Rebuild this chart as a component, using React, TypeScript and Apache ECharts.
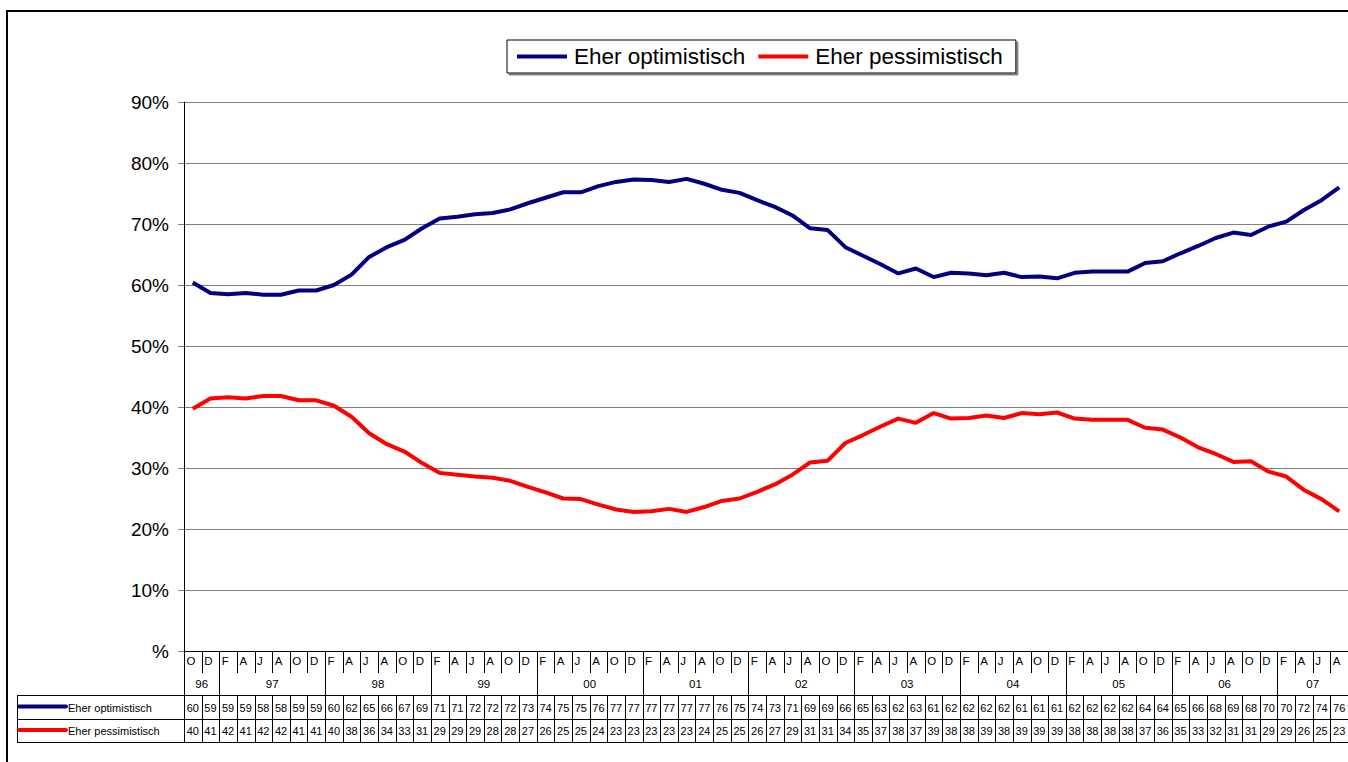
import React, { useEffect, useRef } from 'react';
import * as echarts from 'echarts';

const monthLabels = [
  'O', 'D',
  'F', 'A', 'J', 'A', 'O', 'D',
  'F', 'A', 'J', 'A', 'O', 'D',
  'F', 'A', 'J', 'A', 'O', 'D',
  'F', 'A', 'J', 'A', 'O', 'D',
  'F', 'A', 'J', 'A', 'O', 'D',
  'F', 'A', 'J', 'A', 'O', 'D',
  'F', 'A', 'J', 'A', 'O', 'D',
  'F', 'A', 'J', 'A', 'O', 'D',
  'F', 'A', 'J', 'A', 'O', 'D',
  'F', 'A', 'J', 'A', 'O', 'D',
  'F', 'A', 'J', 'A',
];

const yearLabels = ['96', '97', '98', '99', '00', '01', '02', '03', '04', '05', '06', '07'];
const yearSpans = [2, 6, 6, 6, 6, 6, 6, 6, 6, 6, 6, 4];

const seriesNames = ['Eher optimistisch', 'Eher pessimistisch'];
const seriesColors = ['#000080', '#FF0000'];

// line values as drawn
const optimisticLine = [
  60.4, 58.7, 58.5, 58.7, 58.4, 58.4, 59.1, 59.1, 60.0, 61.7, 64.6, 66.2, 67.4, 69.3, 70.9, 71.2,
  71.6, 71.8, 72.4, 73.4, 74.3, 75.2, 75.2, 76.2, 76.9, 77.3, 77.2, 76.9, 77.4, 76.6, 75.6, 75.1,
  73.9, 72.8, 71.4, 69.3, 69.0, 66.2, 64.8, 63.4, 61.9, 62.7, 61.3, 62.0, 61.9, 61.6, 62.0, 61.3,
  61.4, 61.1, 62.0, 62.2, 62.2, 62.2, 63.6, 63.9, 65.2, 66.4, 67.7, 68.6, 68.2, 69.6, 70.4, 72.3,
  73.9, 76.0,
];
const pessimisticLine = [
  39.7, 41.4, 41.6, 41.4, 41.8, 41.8, 41.1, 41.1, 40.2, 38.4, 35.7, 33.9, 32.7, 30.8, 29.2, 28.9,
  28.6, 28.4, 27.9, 26.9, 26.0, 25.0, 24.9, 24.0, 23.2, 22.8, 22.9, 23.3, 22.8, 23.6, 24.6, 25.0,
  26.1, 27.3, 28.9, 30.9, 31.2, 34.1, 35.4, 36.8, 38.1, 37.4, 39.0, 38.1, 38.2, 38.6, 38.2, 39.0,
  38.8, 39.1, 38.1, 37.9, 37.9, 37.9, 36.6, 36.3, 35.0, 33.4, 32.3, 31.0, 31.1, 29.4, 28.6, 26.4,
  24.9, 22.9,
];

// values printed in the data table
const optimisticTable = [
  60, 59, 59, 59, 58, 58, 59, 59, 60, 62, 65, 66, 67, 69, 71, 71,
  72, 72, 72, 73, 74, 75, 75, 76, 77, 77, 77, 77, 77, 77, 76, 75,
  74, 73, 71, 69, 69, 66, 65, 63, 62, 63, 61, 62, 62, 62, 62, 61,
  61, 61, 62, 62, 62, 62, 64, 64, 65, 66, 68, 69, 68, 70, 70, 72,
  74, 76,
];
const pessimisticTable = [
  40, 41, 42, 41, 42, 42, 41, 41, 40, 38, 36, 34, 33, 31, 29, 29,
  29, 28, 28, 27, 26, 25, 25, 24, 23, 23, 23, 23, 23, 24, 25, 25,
  26, 27, 29, 31, 31, 34, 35, 37, 38, 37, 39, 38, 38, 39, 38, 39,
  39, 39, 38, 38, 38, 38, 37, 36, 35, 33, 32, 31, 31, 29, 29, 26,
  25, 23,
];

const yTicks = [0, 10, 20, 30, 40, 50, 60, 70, 80, 90];

const FONT = '"Liberation Sans", Arial, Helvetica, sans-serif';

export default function App() {
  const ref = useRef<HTMLDivElement>(null);

  useEffect(() => {
    if (!ref.current) return;
    const chart = echarts.init(ref.current, undefined, { renderer: 'svg' });

    const base: any = {
      animation: false,
      backgroundColor: '#ffffff',
      textStyle: { fontFamily: FONT },
      legend: {
        left: 507,
        top: 40,
        padding: [5, 13, 5, 10],
        itemWidth: 50,
        itemHeight: 4,
        itemGap: 13,
        backgroundColor: '#ffffff',
        borderColor: '#000000',
        borderWidth: 1,
        borderRadius: 0,
        shadowColor: '#808080',
        shadowOffsetX: 2,
        shadowOffsetY: 2,
        shadowBlur: 0,
        textStyle: { fontSize: 22.5, color: '#000', fontFamily: FONT, padding: [0, 0, 0, 2] },
        data: seriesNames.map((n) => ({ name: n, icon: 'rect' })),
      },
      grid: { left: 184, top: 102, width: 1165, height: 549, containLabel: false },
      xAxis: {
        type: 'category',
        data: monthLabels,
        boundaryGap: true,
        axisLine: { show: true, lineStyle: { color: '#000', width: 1 } },
        axisTick: { show: false },
        axisLabel: { show: false },
        splitLine: { show: false },
      },
      yAxis: {
        type: 'value',
        min: yTicks[0],
        max: yTicks[yTicks.length - 1],
        interval: 10,
        axisLine: { show: true, lineStyle: { color: '#000', width: 1 } },
        axisTick: { show: true, length: 6, lineStyle: { color: '#808080' } },
        splitLine: { show: true, lineStyle: { color: '#808080', width: 1 } },
        axisLabel: {
          fontSize: 19,
          color: '#000',
          margin: 15,
          fontFamily: FONT,
          formatter: (v: number) => (v === 0 ? '%' : v + '%'),
        },
      },
      series: [
        {
          name: seriesNames[0],
          type: 'line',
          data: optimisticLine,
          symbol: 'none',
          showSymbol: false,
          color: seriesColors[0],
          itemStyle: { color: seriesColors[0] },
          lineStyle: { color: seriesColors[0], width: 4 },
          z: 3,
        },
        {
          name: seriesNames[1],
          type: 'line',
          data: pessimisticLine,
          symbol: 'none',
          showSymbol: false,
          color: seriesColors[1],
          itemStyle: { color: seriesColors[1] },
          lineStyle: { color: seriesColors[1], width: 4 },
          z: 3,
        },
      ],
    };

    chart.setOption(base);

    const cx = (i: number) => chart.convertToPixel({ xAxisIndex: 0 }, i) as number;
    const bw = cx(1) - cx(0);
    const left = cx(0) - bw / 2;
    const right = left + monthLabels.length * bw;
    const y0 = chart.convertToPixel({ yAxisIndex: 0 }, 0) as number;
    const crisp = (v: number) => Math.round(v) + 0.5;

    const g: any[] = [];
    const line = (x1: number, y1: number, x2: number, y2: number, color = '#000', w = 1) => {
      g.push({
        type: 'line',
        silent: true,
        shape: { x1, y1, x2, y2 },
        style: { stroke: color, lineWidth: w },
      });
    };
    const text = (x: number, y: number, t: string, align: string, size = 11) => {
      g.push({
        type: 'text',
        silent: true,
        x,
        y,
        style: {
          text: t,
          fill: '#000',
          fontSize: size,
          fontFamily: FONT,
          align,
          verticalAlign: 'middle',
        },
      });
    };

    // outer frame
    g.push({
      type: 'rect',
      silent: true,
      shape: { x: 7, y: 11, width: 1400, height: 800 },
      style: { fill: 'none', stroke: '#000', lineWidth: 2 },
    });

    const rowTop = y0 + 44;
    const rowMid = y0 + 67.5;
    const rowBot = y0 + 91;
    const tableLeft = 17;

    const yearStarts: number[] = [];
    let acc = 0;
    yearSpans.forEach((s) => {
      yearStarts.push(acc);
      acc += s;
    });

    monthLabels.forEach((m, i) => {
      const bl = left + i * bw;
      text(bl + 2.5, y0 + 10, m, 'left', 11.5);
      if (i > 0) {
        const isYear = yearStarts.indexOf(i) >= 0;
        const x = crisp(bl);
        line(x, y0, x, isYear ? rowTop : y0 + 22);
        line(x, rowTop, x, rowBot);
      }
    });

    yearLabels.forEach((y, k) => {
      const cxm = left + (yearStarts[k] + yearSpans[k] / 2) * bw;
      text(cxm, y0 + 33, y, 'center', 11.5);
    });

    line(tableLeft, crisp(rowTop), right, crisp(rowTop));
    line(tableLeft, crisp(rowMid), right, crisp(rowMid));
    line(tableLeft, crisp(rowBot), right, crisp(rowBot));
    line(crisp(tableLeft), rowTop, crisp(tableLeft), rowBot);
    line(crisp(left), y0, crisp(left), rowBot);

    const tables = [optimisticTable, pessimisticTable];
    const rowCenters = [y0 + 55.5, y0 + 79];
    tables.forEach((vals, r) => {
      const yc = rowCenters[r];
      line(19, yc, 66, yc, seriesColors[r], 4);
      g[g.length - 1].style.lineCap = 'round';
      text(68, yc + 1, seriesNames[r], 'left', 11);
      vals.forEach((v, i) => {
        text(left + (i + 0.5) * bw, yc + 1, String(v), 'center', 11);
      });
    });

    chart.setOption({ graphic: { elements: g } });

    return () => {
      chart.dispose();
    };
  }, []);

  return (
    <div
      ref={ref}
      style={{ position: 'absolute', left: 0, top: 0, width: 1348, height: 762, background: '#fff' }}
    />
  );
}
